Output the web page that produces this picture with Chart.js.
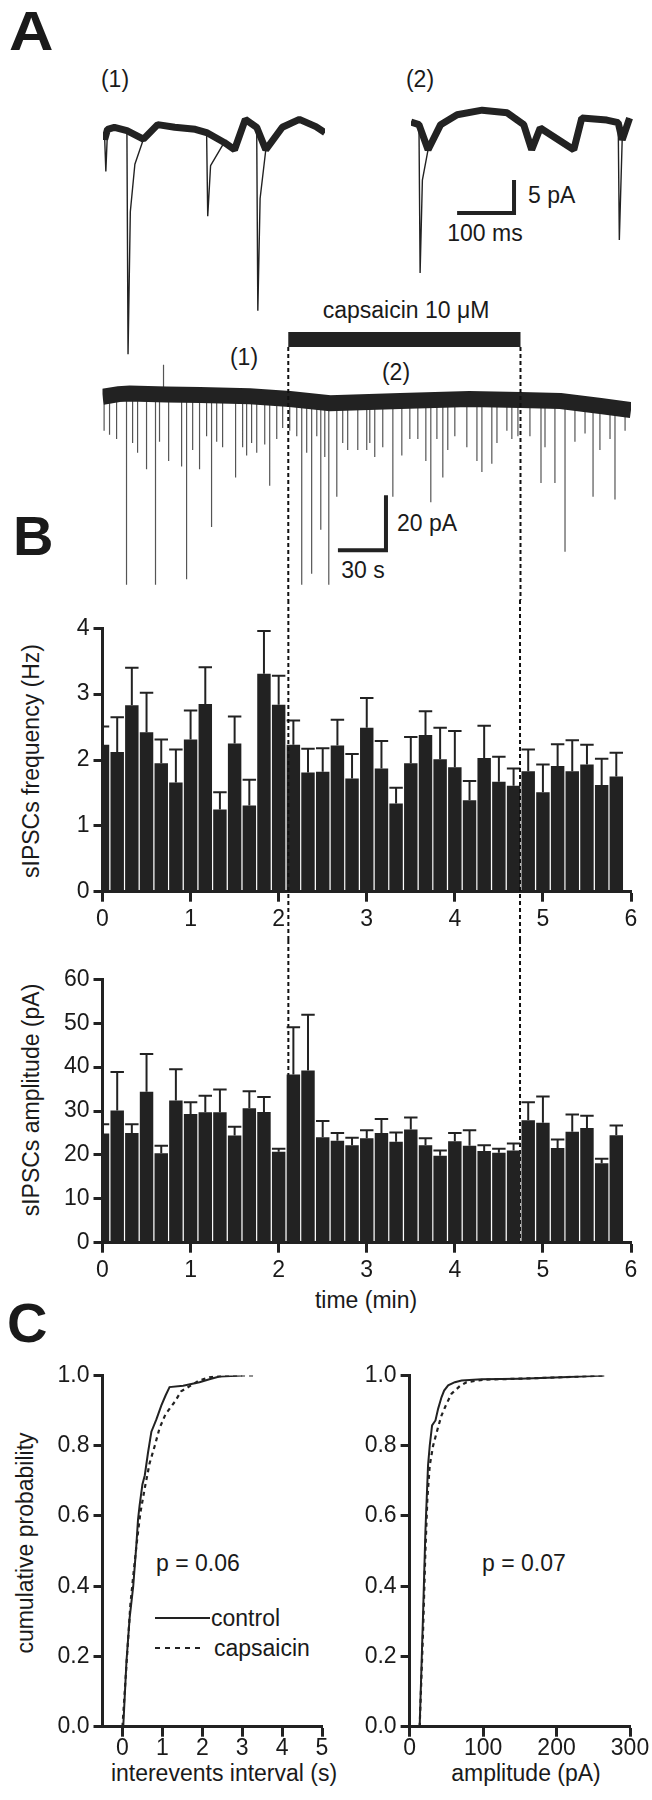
<!DOCTYPE html>
<html>
<head>
<meta charset="utf-8">
<script src="https://cdn.jsdelivr.net/npm/chart.js@4.4.1/dist/chart.umd.min.js"></script>
<style>
body { margin: 0; background: #fff; }
#page { position: relative; width: 652px; height: 1800px; overflow: hidden; font-family: "Liberation Sans", Arial, sans-serif; color: #1a1a1a; }
canvas { position: absolute; }
.t { position: absolute; white-space: nowrap; line-height: 1; font-size: 23px; }
.c { transform: translate(-50%, -50%); }
.l { transform: translate(0, -50%); }
.v { transform: translate(-50%, -50%) rotate(-90deg); }
.big { font-weight: bold; font-size: 56px; }
</style>
</head>
<body>
<div id="page">
  <div class="t big" style="left:9px;top:3px;transform:scaleX(1.1);transform-origin:left;">A</div>
  <div class="t big" style="left:13px;top:508px;">B</div>
  <div class="t big" style="left:7px;top:1295px;">C</div>

  <div class="t c" style="left:115px;top:79px;">(1)</div>
  <div class="t c" style="left:420px;top:79px;">(2)</div>
  <div class="t l" style="left:528px;top:195px;">5 pA</div>
  <div class="t c" style="left:485px;top:233px;">100 ms</div>

  <div class="t c" style="left:406px;top:310px;">capsaicin 10 μM</div>
  <div class="t c" style="left:244px;top:357px;">(1)</div>
  <div class="t c" style="left:396px;top:372px;">(2)</div>
  <div class="t l" style="left:397px;top:523px;">20 pA</div>
  <div class="t c" style="left:363px;top:570px;">30 s</div>

  <div class="t v" style="left:31px;top:761px;">sIPSCs frequency (Hz)</div>
  <div class="t v" style="left:31px;top:1100px;">sIPSCs amplitude (pA)</div>
  <div class="t c" style="left:366px;top:1300px;">time (min)</div>

  <div class="t v" style="left:25px;top:1543px;">cumulative probability</div>
  <div class="t c" style="left:224px;top:1773px;">interevents interval (s)</div>
  <div class="t c" style="left:526px;top:1773px;">amplitude (pA)</div>
  <div class="t l" style="left:156px;top:1563px;">p = 0.06</div>
  <div class="t l" style="left:482px;top:1563px;">p = 0.07</div>
  <div class="t l" style="left:211px;top:1618px;">control</div>
  <div class="t l" style="left:214px;top:1648px;">capsaicin</div>

  <canvas id="sweep1" width="222" height="277" style="left:103px;top:93px;"></canvas>
  <canvas id="sweep2" width="222" height="277" style="left:411px;top:93px;"></canvas>
  <canvas id="record" width="652" height="300" style="left:0;top:300px;"></canvas>
  <canvas id="freqChart" width="652" height="340" style="left:0;top:600px;"></canvas>
  <canvas id="ampChart" width="652" height="360" style="left:0;top:940px;"></canvas>
  <canvas id="ieiChart" width="345" height="440" style="left:0;top:1360px;"></canvas>
  <canvas id="ampCdfChart" width="307" height="440" style="left:345px;top:1360px;"></canvas>
</div>

<script>
const INK = '#222';
Chart.defaults.font.family = '"Liberation Sans", Arial, sans-serif';
Chart.defaults.color = '#1a1a1a';

// ---- panel A: sample sweeps (ms, pA) ----
const sweep1T = [0, 3, 5, 8, 20, 42, 44, 48, 56, 71, 96, 126, 162, 182, 184, 189, 213, 231, 250, 270, 272, 276, 286, 315, 345, 374, 390];
const sweep1I = [0, -1, -5.9, 0.5, 0.8, 0.3, -33.6, -12, -4.8, -1, 1.2, 0.8, 0.5, 0, -12.7, -5, -1.5, -2.6, 2, 0.8, -27, -10, -2.6, 0.8, 2, 0.9, 0];
const sweep2T = [0, 14, 16, 20, 30, 52, 81, 125, 169, 198, 212, 227, 286, 300, 344, 364, 366, 371, 384];
const sweep2I = [1.6, 1.2, -21.3, -7.2, -2.6, 1.2, 2.7, 3.4, 3.0, 1.2, -2.6, 0.7, -2.6, 2.2, 1.9, 1.5, -16.3, -1.1, 2.2];
const sweepScaleBar = { t: 181, i: -12.2, dt: 100, di: 5 };

// ---- continuous recording (s, pA) ----
const recBaseT = [0, 10, 17, 40, 61, 92, 117, 142, 186, 229, 261, 286, 311, 330];
const recBaseI = [-0.7, 0.3, 0.5, 0.2, 0, -0.5, -1.5, -3, -2.2, -1.5, -1.8, -2.2, -4, -5.5];
const recEventT = [1, 4.4, 8.8, 15.0, 18.8, 21.9, 27.5, 33.1, 35.6, 38.1, 41.3, 49.4, 52.5, 56.3, 60.6, 65.0, 68.1, 71.3, 75.0, 83.1,
  87.5, 90.0, 93.1, 96.3, 101.3, 104.4, 108.8, 112.5, 116.9, 121.3, 124.4, 127.5, 130.6, 133.8, 136.3, 138.8, 141.3, 146.3, 150.0, 153.1,
  159.4, 165.0, 166.9, 170.0, 175.0, 181.3, 186.9, 191.9, 196.9, 201.9, 205.0, 208.8, 212.5, 215.6, 220.0, 227.5, 233.8, 236.9, 243.1, 246.3,
  252.5, 255.6, 259.4, 266.9, 273.8, 276.3, 282.5, 288.8, 295.0, 301.3, 306.3, 310.6, 316.9, 320.0, 326.3];
const recEventPeak = [-13, -14.5, -16, -69, -17.5, -21, -27, -69, -17, 11, -24, -26, -67, -20, -27, -15, -48, -17, -19, -30,
  -19, -22, -17.5, -21, -18, -33, -16, -12, -13, -15, -69, -21, -65, -15, -49, -22.5, -69, -37, -17.5, -20,
  -20, -20, -17.5, -22.5, -19, -37, -22, -16, -16, -24, -39, -16, -30, -20, -15, -19, -24, -28, -25, -17.5,
  -13, -16, -15, -15, -32, -19, -32, -57, -17, -14, -37, -20, -16, -38, -13];
const recScaleBar = { t: 177, i: -56.4, dt: 30, di: 20 };
const drugSec = [116, 261];   // capsaicin on / off in the recording
const drugMin = [2.11, 4.74]; // same window on the time axis of B

// ---- panel B: 10 s bins ----
const binTime = [0, 0.167, 0.333, 0.5, 0.667, 0.833, 1, 1.167, 1.333, 1.5, 1.667, 1.833, 2, 2.167, 2.333, 2.5, 2.667, 2.833,
  3, 3.167, 3.333, 3.5, 3.667, 3.833, 4, 4.167, 4.333, 4.5, 4.667, 4.833, 5, 5.167, 5.333, 5.5, 5.667, 5.833];
const freqMean = [2.23, 2.12, 2.83, 2.42, 1.95, 1.66, 2.31, 2.85, 1.25, 2.25, 1.31, 3.31, 2.84, 2.23, 1.81, 1.82, 2.22, 1.72,
  2.49, 1.87, 1.34, 1.95, 2.38, 2.01, 1.89, 1.39, 2.03, 1.67, 1.61, 1.83, 1.51, 1.91, 1.83, 1.93, 1.62, 1.75];
const freqSem = [0.28, 0.53, 0.57, 0.60, 0.36, 0.50, 0.44, 0.56, 0.26, 0.41, 0.39, 0.65, 0.44, 0.37, 0.36, 0.36, 0.39, 0.37,
  0.45, 0.42, 0.24, 0.40, 0.36, 0.48, 0.55, 0.29, 0.49, 0.38, 0.26, 0.33, 0.42, 0.33, 0.47, 0.30, 0.40, 0.36];
const ampMean = [24.9, 30.1, 25.0, 34.4, 20.4, 32.4, 29.3, 29.7, 29.7, 24.4, 30.6, 29.8, 20.7, 38.3, 39.2, 24.0, 23.2, 22.2,
  23.8, 25.0, 23.0, 25.8, 22.2, 19.8, 23.1, 22.1, 20.9, 20.5, 21.0, 27.9, 27.3, 21.6, 25.3, 26.1, 18.1, 24.5];
const ampSem = [2.1, 8.8, 2.0, 8.6, 1.7, 7.1, 2.7, 3.8, 5.2, 2.0, 3.9, 3.4, 0.7, 10.8, 12.7, 3.7, 1.8, 1.7,
  1.8, 3.2, 2.1, 2.7, 1.6, 1.2, 1.9, 3.5, 1.3, 0.9, 1.6, 4.1, 6.0, 1.9, 3.9, 2.8, 1.0, 2.2];

// ---- panel C: cumulative distributions ----
const ieiCtrlX = [0.02, 0.1, 0.18, 0.27, 0.35, 0.39, 0.43, 0.5, 0.56, 0.64, 0.725, 0.85, 0.975, 1.08, 1.18, 1.52, 1.93, 2.2, 2.43, 3.0];
const ieiCtrlY = [0, 0.185, 0.31, 0.40, 0.52, 0.59, 0.63, 0.69, 0.716, 0.78, 0.84, 0.875, 0.915, 0.943, 0.967, 0.971, 0.981, 0.99, 0.997, 1.0];
const ieiCapX = [0, 0.1, 0.2, 0.28, 0.37, 0.45, 0.56, 0.68, 0.81, 0.93, 1.08, 1.31, 1.47, 1.91, 2.18, 2.6, 3.3];
const ieiCapY = [0, 0.175, 0.35, 0.44, 0.535, 0.61, 0.68, 0.75, 0.80, 0.85, 0.89, 0.925, 0.955, 0.985, 0.995, 1.0, 1.0];
const ampCtrlX = [13.7, 18.3, 21.5, 25.1, 27.4, 30.6, 35.2, 38.8, 43.4, 47, 52.5, 61.6, 70.8, 98, 150, 207, 265];
const ampCtrlY = [0, 0.318, 0.555, 0.744, 0.80, 0.858, 0.872, 0.905, 0.938, 0.957, 0.972, 0.981, 0.986, 0.989, 0.991, 0.995, 1.0];
const ampCapX = [13.7, 18.3, 21.5, 24.2, 27.4, 32, 38.8, 43.4, 50.2, 57, 68.5, 77.6, 100, 150, 207, 265];
const ampCapY = [0, 0.27, 0.50, 0.65, 0.744, 0.80, 0.853, 0.886, 0.919, 0.948, 0.97, 0.981, 0.988, 0.991, 0.995, 1.0];

const pts = (xs, ys) => xs.map((x, i) => ({ x, y: ys[i] }));

// baseline value of the recording at time t, used to root each event on the trace
function baseAt(t) {
    for (let k = 1; k < recBaseT.length; k++) {
        if (t <= recBaseT[k]) {
            const f = (t - recBaseT[k - 1]) / (recBaseT[k] - recBaseT[k - 1]);
            return recBaseI[k - 1] + f * (recBaseI[k] - recBaseI[k - 1]);
        }
    }
    return recBaseI[recBaseI.length - 1];
}

// plugins
const scaleBar = {
    id: 'scaleBar',
    afterDatasetsDraw(chart, args, o) {
        if (!o.bar) return;
        const { x, y } = chart.scales;
        const c = chart.ctx;
        const x1 = x.getPixelForValue(o.bar.t), y1 = y.getPixelForValue(o.bar.i);
        const x0 = x.getPixelForValue(o.bar.t - o.bar.dt), y0 = y.getPixelForValue(o.bar.i + o.bar.di);
        c.save();
        c.strokeStyle = INK; c.lineWidth = 4; c.lineJoin = 'miter';
        c.beginPath(); c.moveTo(x0, y1); c.lineTo(x1, y1); c.lineTo(x1, y0); c.stroke();
        c.restore();
    }
};

function dashedAt(chart, xs, y0, y1) {
    const c = chart.ctx;
    c.save();
    c.strokeStyle = '#111'; c.lineWidth = 2; c.setLineDash([4, 3]);
    xs.forEach(v => {
        const px = chart.scales.x.getPixelForValue(v);
        c.beginPath(); c.moveTo(px, y0); c.lineTo(px, y1); c.stroke();
    });
    c.restore();
}

const drugMarks = {
    id: 'drugMarks',
    afterDatasetsDraw(chart, args, o) {
        if (o.mode === 'record') {
            const c = chart.ctx, x = chart.scales.x, top = chart.chartArea.top;
            c.save(); c.fillStyle = INK;
            c.fillRect(x.getPixelForValue(drugSec[0]), top + 32, x.getPixelForValue(drugSec[1]) - x.getPixelForValue(drugSec[0]), 15);
            c.restore();
            dashedAt(chart, drugSec, top + 47, chart.height);
        } else if (o.mode === 'over') {
            dashedAt(chart, drugMin, 0, chart.height);
        }
    },
    beforeDatasetsDraw(chart, args, o) {
        if (o.mode === 'under') dashedAt(chart, drugMin, 0, chart.chartArea.bottom);
    }
};

const errorBars = {
    id: 'errorBars',
    afterDatasetsDraw(chart, args, o) {
        const meta = chart.getDatasetMeta(0);
        const y = chart.scales.y, c = chart.ctx, a = chart.chartArea;
        const vals = chart.data.datasets[0].data;
        c.save();
        c.beginPath(); c.rect(a.left, 0, a.right - a.left, chart.height); c.clip();
        c.strokeStyle = INK; c.lineWidth = 2;
        meta.data.forEach((bar, i) => {
            const top = y.getPixelForValue(vals[i].y + o.sem[i]);
            c.beginPath();
            c.moveTo(bar.x, bar.y); c.lineTo(bar.x, top);
            c.moveTo(bar.x - bar.width / 2, top); c.lineTo(bar.x + bar.width / 2, top);
            c.stroke();
        });
        c.restore();
    }
};

const cdfLegend = {
    id: 'cdfLegend',
    afterDatasetsDraw(chart, args, o) {
        if (!o.show) return;
        const c = chart.ctx;
        c.save(); c.strokeStyle = INK; c.lineWidth = 2;
        c.beginPath(); c.moveTo(155, 258); c.lineTo(210, 258); c.stroke();
        c.setLineDash([5, 5]);
        c.beginPath(); c.moveTo(155, 288); c.lineTo(205, 288); c.stroke();
        c.restore();
    }
};

// sweeps
function sweepChart(id, ts, is, bar) {
    const all = pts(ts, is);
    return new Chart(document.getElementById(id), {
        type: 'line',
        data: { datasets: [
            { data: all.filter(p => p.y > -3), borderColor: INK, borderWidth: 7, spanGaps: true },
            { data: all, borderColor: INK, borderWidth: 1.4 }
        ] },
        options: {
            responsive: false, animation: false, events: [],
            layout: { padding: 0 },
            elements: { point: { radius: 0 }, line: { tension: 0, borderJoinStyle: 'bevel' } },
            scales: {
                x: { type: 'linear', min: 0, max: 390, display: false },
                y: { min: -36, max: 6, display: false }
            },
            plugins: { legend: { display: false }, tooltip: { enabled: false }, scaleBar: { bar } }
        },
        plugins: [scaleBar]
    });
}
sweepChart('sweep1', sweep1T, sweep1I, null);
sweepChart('sweep2', sweep2T, sweep2I, sweepScaleBar);

// continuous recording
const eventPts = [];
recEventT.forEach((t, k) => {
    eventPts.push({ x: t, y: baseAt(t) }, { x: t, y: recEventPeak[k] }, { x: t, y: null });
});
new Chart(document.getElementById('record'), {
    type: 'line',
    data: { datasets: [
        { data: pts(recBaseT, recBaseI), borderColor: INK, borderWidth: 16, order: 1 },
        { data: eventPts, borderColor: '#555', borderWidth: 1.2, spanGaps: false, order: 2 }
    ] },
    options: {
        responsive: false, animation: false, events: [],
        layout: { padding: { left: 102.5, right: 21, top: 0, bottom: 0 } },
        elements: { point: { radius: 0 }, line: { tension: 0 } },
        scales: {
            x: { type: 'linear', min: 0, max: 330, display: false },
            y: { min: -74.5, max: 34.5, display: false }
        },
        plugins: { legend: { display: false }, tooltip: { enabled: false },
            scaleBar: { bar: recScaleBar }, drugMarks: { mode: 'record' } }
    },
    plugins: [scaleBar, drugMarks]
});

// shared axis styling
const tickFont = { size: 23, lineHeight: 1 };
function axis(extra, fitW, fitH) {
    return Object.assign({
        type: 'linear',
        border: { color: INK, width: 3 },
        grid: { drawOnChartArea: false, drawTicks: true, tickLength: 9, tickWidth: 3, color: INK, tickColor: INK },
        afterFit(s) { if (fitW !== undefined) s.width = fitW; if (fitH !== undefined) s.height = fitH; }
    }, extra);
}

function barChart(id, mean, sem, yMax, yStep, padTop, xHeight, lineMode) {
    return new Chart(document.getElementById(id), {
        type: 'bar',
        data: { datasets: [{
            data: pts(binTime, mean), backgroundColor: INK, borderWidth: 0,
            barPercentage: 0.92, categoryPercentage: 1
        }] },
        options: {
            responsive: false, animation: false, events: [],
            layout: { padding: { left: 0, right: 21, top: padTop, bottom: 0 } },
            scales: {
                x: axis({ min: 0, max: 6, offset: false, ticks: { stepSize: 1, font: tickFont, padding: 6, maxRotation: 0 },
                          grid: { offset: false, drawOnChartArea: false, tickLength: 10, tickWidth: 3, color: INK } }, undefined, xHeight),
                y: axis({ min: 0, max: yMax, ticks: { stepSize: yStep, font: tickFont, padding: 4 } }, 102.5, undefined)
            },
            plugins: { legend: { display: false }, tooltip: { enabled: false },
                errorBars: { sem }, drugMarks: { mode: lineMode } }
        },
        plugins: [errorBars, drugMarks]
    });
}
barChart('freqChart', freqMean, freqSem, 4, 1, 28.3, 48.3, 'over');
barChart('ampChart', ampMean, ampSem, 60, 10, 39.3, 57.3, 'under');

// cumulative probability plots
function cdfChart(id, ctrl, cap, xMin, xMax, xTicks, yWidth, padRight, legend) {
    return new Chart(document.getElementById(id), {
        type: 'line',
        data: { datasets: [
            { data: ctrl, borderColor: INK, borderWidth: 2 },
            { data: cap, borderColor: INK, borderWidth: 2.2, borderDash: [4, 4] }
        ] },
        options: {
            responsive: false, animation: false, events: [],
            layout: { padding: { left: 0, right: padRight, top: 15, bottom: 0 } },
            elements: { point: { radius: 0 }, line: { tension: 0 } },
            scales: {
                x: axis({ min: xMin, max: xMax, ticks: { font: tickFont, padding: 0, maxRotation: 0 },
                          grid: { drawOnChartArea: false, tickLength: 10, tickWidth: 3, color: INK },
                          afterBuildTicks(s) { s.ticks = xTicks.map(v => ({ value: v })); } }, undefined, 73.3),
                y: axis({ min: 0, max: 1, ticks: { stepSize: 0.2, font: tickFont, padding: 4, callback: v => v.toFixed(1) } }, yWidth, undefined)
            },
            plugins: { legend: { display: false }, tooltip: { enabled: false }, cdfLegend: { show: legend } }
        },
        plugins: [cdfLegend]
    });
}
cdfChart('ieiChart', pts(ieiCtrlX, ieiCtrlY), pts(ieiCapX, ieiCapY), -0.5, 5, [0, 1, 2, 3, 4, 5], 102.5, 23, true);
cdfChart('ampCdfChart', pts(ampCtrlX, ampCtrlY), pts(ampCapX, ampCapY), 0, 300, [0, 100, 200, 300], 64.6, 22, false);
</script>
</body>
</html>
